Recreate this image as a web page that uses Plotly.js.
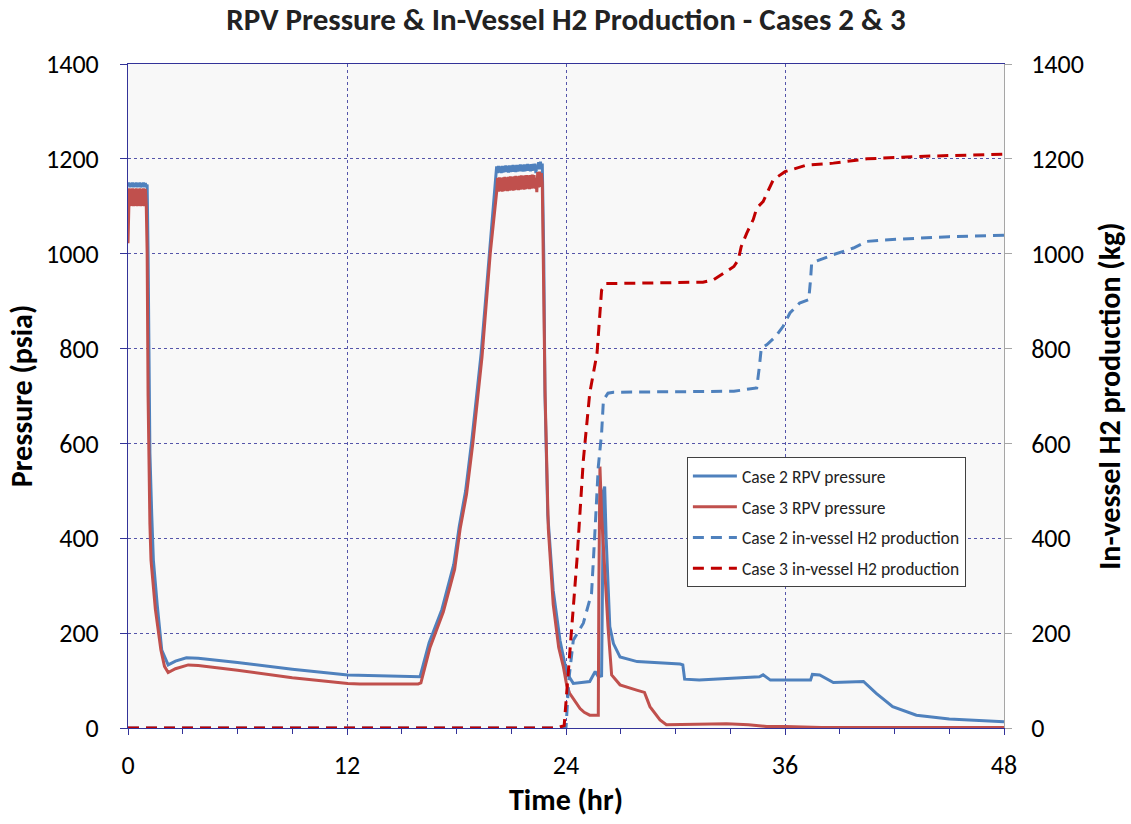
<!DOCTYPE html>
<html>
<head>
<meta charset="utf-8">
<script src="https://cdn.plot.ly/plotly-3.0.1.min.js"></script>
<style>
html,body{margin:0;padding:0;background:#fff;}
#chart{width:1131px;height:824px;}
</style>
</head>
<body>
<div id="chart"></div>
<script>
// ---- Data ----
const seriesNames = ["Case 2 RPV pressure", "Case 3 RPV pressure", "Case 2 in-vessel H2 production", "Case 3 in-vessel H2 production"];
const xTickVals = [0, 12, 24, 36, 48];
const yTickVals = [0, 200, 400, 600, 800, 1000, 1200, 1400];

// Case 2 RPV pressure (psia)
const c2Time = [0,0.05,0.1,0.15,0.2,0.25,0.3,0.35,0.4,0.45,0.5,0.55,0.6,0.65,0.7,0.75,0.8,0.85,0.9,0.95,1.0,1.05,
  1.1,1.15,1.2,1.3,1.39,1.6,1.85,2.2,2.6,3.2,3.85,6,9,12.04,14,16.0,
  16.5,17.2,17.85,18.15,18.5,18.85,19.35,19.8,20.15,
  20.2,20.25,20.3,20.35,20.4,20.45,20.5,20.55,20.6,20.65,20.7,20.75,20.8,20.85,20.9,20.95,21.0,21.05,21.1,21.15,21.2,21.25,21.3,21.35,21.4,21.45,21.5,21.55,21.6,21.65,21.7,21.75,21.8,21.85,21.9,21.95,22.0,22.05,22.1,22.15,22.2,22.25,22.3,22.35,22.4,22.45,22.5,22.55,22.6,22.65,22.7,
  22.78,22.85,23.0,23.3,23.67,24.04,24.4,25.3,25.6,25.77,25.95,26.05,26.12,26.2,26.4,26.6,26.96,27.9,30.25,30.4,30.5,31.3,34.6,34.8,35.2,37.4,37.5,37.9,38.65,40.3,41.0,41.9,43.2,45.0,48];
const c2Pressure = [1142,1150,1140,1149,1141,1150,1140,1149,1141,1150,1140,1149,1141,1150,1140,1149,1141,1150,1140,1149,1141,1146,
  1000,720,580,450,354,260,164,133,141,148,147,138,124,112,110,108,
  180,250,345,425,500,610,790,1005,1160,
  1184,1170,1185,1171,1184,1170,1185,1171,1185,1172,1186,1172,1185,1171,1186,1172,1186,1173,1187,1173,1186,1172,1187,1173,1187,1174,1188,1174,1187,1173,1188,1174,1188,1175,1189,1175,1188,1174,1189,1175,1189,1176,1190,1170,1185,1178,1193,1178,1194,1180,1190,
  1000,700,450,290,185,116,94,98,119,108,110,500,509,400,214,178,150,140,135,133,103,101,108,112,101,101,113,112,96,98,73,45,27,19,13];

// Case 3 RPV pressure (psia)
const c3Time = [0,0.03,0.07,0.1,0.15,0.2,0.25,0.3,0.35,0.4,0.45,0.5,0.55,0.6,0.65,0.7,0.75,0.8,0.85,0.9,0.95,1.0,
  1.05,1.1,1.15,1.2,1.26,1.5,1.8,2.0,2.2,2.6,3.3,3.85,6,9,12.04,12.7,15.9,
  16.05,16.55,17.28,17.9,18.2,18.55,18.9,19.4,19.85,20.2,
  20.25,20.3,20.35,20.4,20.45,20.5,20.55,20.6,20.65,20.7,20.75,20.8,20.85,20.9,20.95,21.0,21.05,21.1,21.15,21.2,21.25,21.3,21.35,21.4,21.45,21.5,21.55,21.6,21.65,21.7,21.75,21.8,21.85,21.9,21.95,22.0,22.05,22.1,22.15,22.2,22.25,22.3,22.35,22.4,22.45,22.5,22.55,22.6,22.65,22.7,
  22.76,22.85,23.03,23.3,23.6,23.85,24.04,24.2,24.77,25.0,25.3,25.77,25.8,25.86,25.95,26.3,26.5,26.96,27.87,28.3,28.6,29.15,29.5,31,32.8,34,35,36,38,48];
const c3Pressure = [1022,1100,1138,1100,1137,1101,1138,1100,1137,1101,1138,1100,1137,1101,1138,1100,1137,1101,1138,1100,1137,1102,
  1000,700,540,430,354,250,165,130,117,125,133,132,122,106,94,93,93,
  95,170,245,335,420,493,602,783,1001,1130,
  1160,1131,1161,1132,1160,1131,1161,1132,1162,1133,1161,1132,1162,1133,1163,1134,1162,1133,1163,1134,1164,1135,1163,1134,1164,1135,1165,1136,1164,1135,1165,1136,1166,1137,1165,1136,1166,1137,1167,1138,1166,1137,1160,1130,1172,1140,1173,1141,1170,1150,
  1000,711,421,260,170,130,90,73,41,33,27,27,300,551,450,214,112,91,80,75,45,17,7,8,9,7,3,3,1,1];

// Case 2 in-vessel H2 production (kg)
const c2H2Time = [0,24.0,24.15,24.4,24.95,25.4,25.6,25.77,25.95,26.05,26.3,26.6,33.2,34.45,34.6,34.7,35.0,35.5,35.9,36.27,36.8,37.3,37.4,37.46,37.7,38.65,39.75,40.5,41.4,43.2,45,48];
const c2H2 = [0,0,100,185,221,284,424,551,621,691,706,708,710,717,763,801,808,826,847,875,896,903,945,980,984,998,1012,1026,1029,1033,1036,1039];

// Case 3 in-vessel H2 production (kg)
const c3H2Time = [0,23.5,23.9,24.04,24.2,24.6,24.95,25.3,25.7,25.95,26.2,31.5,32.07,33.2,33.44,33.6,33.9,34.26,34.45,34.8,35.36,36.0,37.2,38.65,40.5,43.2,48];
const c3H2 = [0,0,5,73,143,354,565,706,790,923,937,940,945,973,987,1015,1043,1072,1096,1110,1156,1173,1187,1191,1200,1205,1210];

// ---- Styling ----
const FONT = 'Carlito, Lato, "Open Sans", sans-serif';
const NAVY = '#333399';
const GRID = '#5555aa';
const BLUE = '#4F81BD';
const RED = '#C0504D';
const DARKRED = '#C00000';
const DASH = '11px,7px';

const traces = [
  {x: c2Time, y: c2Pressure, name: seriesNames[0], type: 'scatter', mode: 'lines',
   line: {color: BLUE, width: 3}, legendgroup: 'a', yaxis: 'y'},
  {x: c3Time, y: c3Pressure, name: seriesNames[1], type: 'scatter', mode: 'lines',
   line: {color: RED, width: 3}, legendgroup: 'b', yaxis: 'y'},
  {x: c2H2Time, y: c2H2, name: seriesNames[2], type: 'scatter', mode: 'lines',
   line: {color: BLUE, width: 3, dash: DASH}, legendgroup: 'c', yaxis: 'y2'},
  {x: c3H2Time, y: c3H2, name: seriesNames[3], type: 'scatter', mode: 'lines',
   line: {color: DARKRED, width: 3, dash: DASH}, legendgroup: 'd', yaxis: 'y2'}
];

const layout = {
  width: 1131, height: 824,
  margin: {l: 128, r: 127, t: 64, b: 96, pad: 0},
  paper_bgcolor: '#ffffff',
  plot_bgcolor: '#f8f8f8',
  font: {family: FONT, color: '#000'},
  title: {text: '<b>RPV Pressure & In-Vessel H2 Production - Cases 2 & 3</b>',
          font: {family: FONT, size: 31, color: '#222'},
          x: 0.5, xref: 'paper', xanchor: 'center', y: 0.977, yref: 'container', yanchor: 'middle'},
  showlegend: true,
  legend: {x: 0.638, y: 0.408, xanchor: 'left', yanchor: 'top', xref: 'paper', yref: 'paper',
           bgcolor: '#ffffff', bordercolor: '#404040', borderwidth: 1, itemwidth: 44,
           font: {family: FONT, size: 17.5, color: '#222'}, tracegroupgap: 5},
  xaxis: {
    range: [0, 48], tickvals: xTickVals, ticktext: xTickVals.map(String),
    showline: true, linecolor: NAVY, linewidth: 1, mirror: true,
    ticks: 'outside', ticklen: 6, tickcolor: NAVY, tickwidth: 1,
    ticklabelstandoff: 8,
    minor: {dtick: 3, tick0: 0, ticks: 'outside', ticklen: 5, tickcolor: NAVY, showgrid: false},
    showgrid: true, gridcolor: GRID, griddash: 'dot', gridwidth: 1,
    zeroline: false,
    tickfont: {family: FONT, size: 26, color: '#000'},
    title: {text: '<b>Time (hr)</b>', font: {family: FONT, size: 30, color: '#000'}, standoff: 4}
  },
  yaxis: {
    range: [0, 1400], tickvals: yTickVals, ticktext: yTickVals.map(String),
    showline: true, linecolor: NAVY, linewidth: 1,
    ticks: 'outside', ticklen: 7, tickcolor: NAVY, tickwidth: 1,
    ticklabelstandoff: 16,
    showgrid: true, gridcolor: GRID, griddash: 'dot', gridwidth: 1,
    zeroline: false,
    tickfont: {family: FONT, size: 26, color: '#000'},
    title: {text: '<b>Pressure (psia)</b>', font: {family: FONT, size: 30, color: '#000'}, standoff: 4}
  },
  yaxis2: {
    range: [0, 1400], tickvals: yTickVals, ticktext: yTickVals.map(String),
    overlaying: 'y', side: 'right', anchor: 'x',
    showline: true, linecolor: '#a6a6a6', linewidth: 1,
    ticks: 'outside', ticklen: 7, tickcolor: '#a6a6a6', tickwidth: 1,
    ticklabelstandoff: 14,
    showgrid: false, zeroline: false,
    tickfont: {family: FONT, size: 26, color: '#000'},
    title: {text: '<b>In-vessel H2 production (kg)</b>', font: {family: FONT, size: 30, color: '#000'}, standoff: 16}
  }
};

Plotly.newPlot('chart', traces, layout, {displayModeBar: false, staticPlot: true});
</script>
</body>
</html>
